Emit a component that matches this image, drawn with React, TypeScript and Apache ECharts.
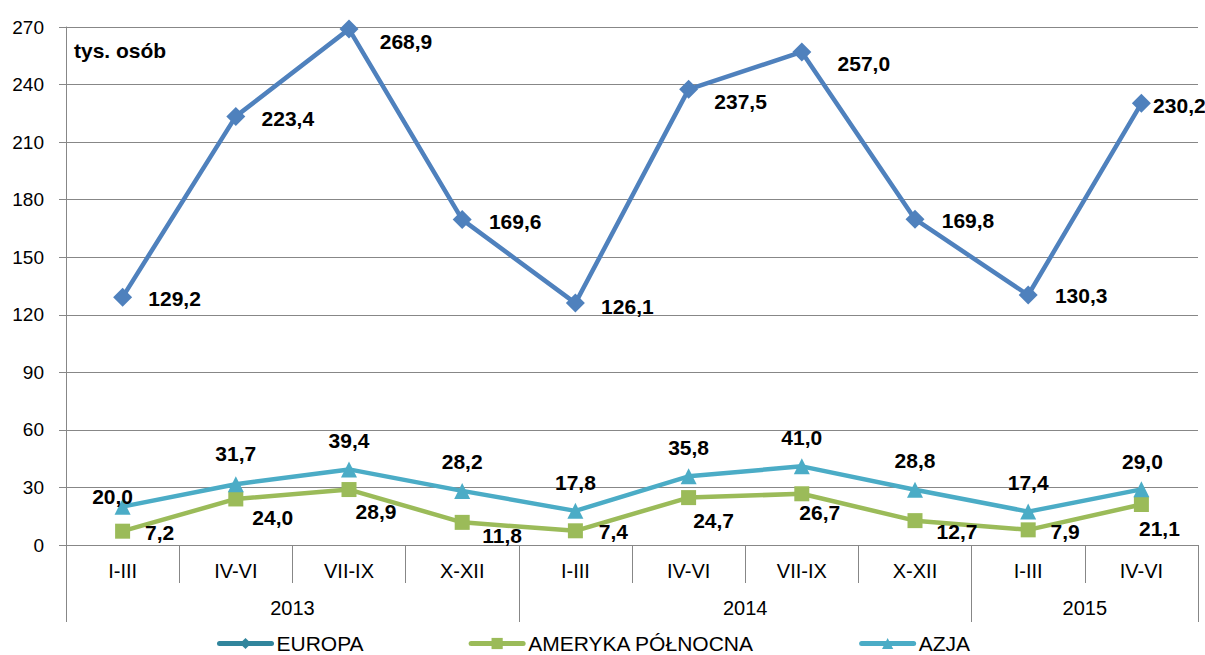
import React, { useEffect, useRef } from 'react';
import * as echarts from 'echarts';

const quarters = ['I-III', 'IV-VI', 'VII-IX', 'X-XII', 'I-III', 'IV-VI', 'VII-IX', 'X-XII', 'I-III', 'IV-VI'];
const years = ['2013', '2013', '2013', '2013', '2014', '2014', '2014', '2014', '2015', '2015'];
const europa = [129.2, 223.4, 268.9, 169.6, 126.1, 237.5, 257.0, 169.8, 130.3, 230.2];
const ameryka = [7.2, 24.0, 28.9, 11.8, 7.4, 24.7, 26.7, 12.7, 7.9, 21.1];
const azja = [20.0, 31.7, 39.4, 28.2, 17.8, 35.8, 41.0, 28.8, 17.4, 29.0];
const yMin = 0;
const yMax = 270;
const yStep = 30;
const unitLabel = 'tys. osób';

// label placement (px offsets from point centre)
const europaLabelOffsets = [[52, 1], [52, 2], [57, 12], [53, 2], [52, 3], [52, 12], [62, 12], [53, 1], [53, 0], [38, 2]];
const amerykaLabelOffsets = [[37, 1], [37, 19], [27, 22], [40, 13], [38, 1], [25, 23], [18, 19], [42, 11], [37, 2], [18, 24]];
const azjaLabelOffsets = [[-10, -10], [0, -31], [0, -29], [0, -29], [0, -28], [0, -29], [0, -29], [0, -29], [0, -29], [1, -28]];

const W = 1205;
const H = 655;
const GRID = { left: 66, right: 7, top: 27, bottom: 110 };
const FONT = '"Liberation Sans", Arial, sans-serif';
const GREY = '#878787';

const fmt = (v: number) => v.toFixed(1).replace('.', ',');

export default function App() {
  const ref = useRef<HTMLDivElement>(null);
  useEffect(() => {
    document.body.style.margin = '0';
    if (!ref.current) return;
    const chart = echarts.init(ref.current, undefined, { renderer: 'svg' });
    const band = (W - GRID.left - GRID.right) / quarters.length;

    // year groups
    const groupStart: number[] = [];
    years.forEach((y, i) => { if (i === 0 || y !== years[i - 1]) groupStart.push(i); });
    const labelIdx = new Set<number>();
    groupStart.forEach((s, k) => {
      const end = k + 1 < groupStart.length ? groupStart[k + 1] : years.length;
      labelIdx.add(Math.floor(s + (end - s - 1) / 2));
    });

    const mk = (vals: number[], offs: number[][]) =>
      vals.map((v, i) => ({ value: v, label: { offset: offs[i] } }));

    const labelBase = {
      show: true,
      position: 'inside',
      formatter: (p: any) => fmt(p.value),
      fontFamily: FONT,
      fontWeight: 'bold',
      fontSize: 21,
      color: '#000',
    };

    chart.setOption({
      animation: false,
      backgroundColor: '#fff',
      grid: { ...GRID, containLabel: false },
      legend: {
        left: 212,
        top: 628,
        itemWidth: 52,
        itemHeight: 14,
        itemGap: 105,
        textStyle: { fontFamily: FONT, fontSize: 21, color: '#000' },
        data: [
          { name: 'EUROPA', itemStyle: { color: '#31859c' }, lineStyle: { color: '#31859c', width: 5, cap: 'round' } },
          { name: 'AMERYKA PÓŁNOCNA', lineStyle: { width: 5, cap: 'round' } },
          { name: 'AZJA', lineStyle: { width: 5, cap: 'round' } },
        ],
      },
      xAxis: [
        {
          type: 'category',
          data: quarters,
          position: 'bottom',
          axisLine: { show: true, lineStyle: { color: GREY, width: 1 } },
          axisTick: { show: true, interval: 0, length: 38, lineStyle: { color: GREY } },
          axisLabel: { interval: 0, margin: 16, fontFamily: FONT, fontSize: 20, color: '#000' },
        },
        {
          type: 'category',
          data: years,
          position: 'bottom',
          offset: 38,
          axisLine: { show: false },
          axisTick: {
            show: true,
            length: 39,
            interval: (i: number) => i === 0 || years[i] !== years[i - 1],
            lineStyle: { color: GREY },
          },
          axisLabel: {
            interval: (i: number) => labelIdx.has(i),
            margin: 15,
            padding: [0, 0, 0, band],
            fontFamily: FONT,
            fontSize: 20,
            color: '#000',
          },
        },
      ],
      yAxis: {
        type: 'value',
        min: yMin,
        max: yMax,
        interval: yStep,
        axisLine: { show: true, lineStyle: { color: GREY } },
        axisTick: { show: true, length: 7, lineStyle: { color: GREY } },
        axisLabel: { margin: 22, fontFamily: FONT, fontSize: 19, color: '#000' },
        splitLine: { lineStyle: { color: GREY, width: 1 } },
      },
      graphic: [
        {
          type: 'text',
          left: 74,
          top: 40,
          style: { text: unitLabel, font: `bold 21px ${FONT}`, fill: '#000' },
        },
      ],
      series: [
        {
          name: 'EUROPA',
          type: 'line',
          data: mk(europa, europaLabelOffsets),
          symbol: 'diamond',
          symbolSize: 19,
          lineStyle: { width: 4.5, color: '#4f81bd' },
          itemStyle: { color: '#4f81bd' },
          label: labelBase,
        },
        {
          name: 'AMERYKA PÓŁNOCNA',
          type: 'line',
          data: mk(ameryka, amerykaLabelOffsets),
          symbol: 'rect',
          symbolSize: 15,
          lineStyle: { width: 4.5, color: '#9bbb59' },
          itemStyle: { color: '#9bbb59' },
          label: labelBase,
        },
        {
          name: 'AZJA',
          type: 'line',
          data: mk(azja, azjaLabelOffsets),
          symbol: 'triangle',
          symbolSize: 16,
          lineStyle: { width: 4.5, color: '#4bacc6' },
          itemStyle: { color: '#4bacc6' },
          label: labelBase,
        },
      ],
    });
    return () => chart.dispose();
  }, []);
  return <div ref={ref} style={{ width: W, height: H }} />;
}
